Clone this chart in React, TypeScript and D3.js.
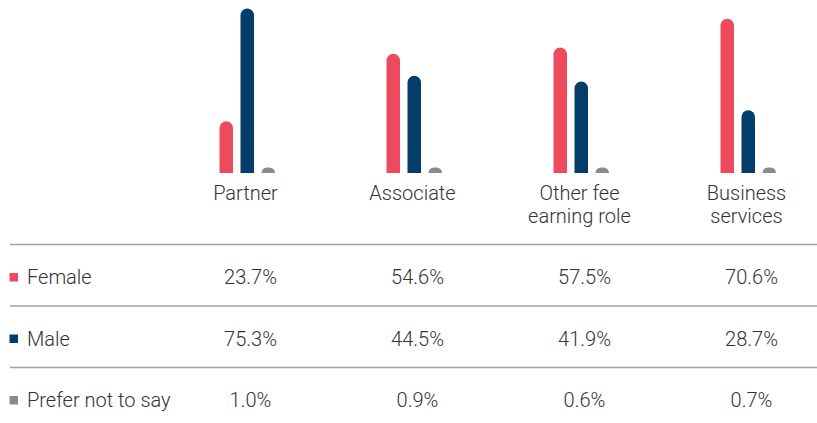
import React from "react";
import * as d3 from "d3";

const categories = ["Partner", "Associate", "Other fee earning role", "Business services"];
const categoryLines = [["Partner"], ["Associate"], ["Other fee", "earning role"], ["Business", "services"]];
const seriesNames = ["Female", "Male", "Prefer not to say"];
const female = [23.7, 54.6, 57.5, 70.6];
const male = [75.3, 44.5, 41.9, 28.7];
const preferNot = [1.0, 0.9, 0.6, 0.7];
const seriesColors = ["#EE4A5D", "#023D6B", "#8B8B8F"];

const W = 817;
const H = 423;
const FONT = "Roboto, 'Liberation Sans', Arial, sans-serif";
const TEXT = "#333333";

const App = () => {
  const values = [female, male, preferNot];

  const x = d3.scaleBand<string>().domain(categories).range([164, 832]);
  const inner = d3
    .scaleBand<string>()
    .domain(seriesNames)
    .range([-28, 27.5])
    .paddingInner(0.357)
    .paddingOuter(0);
  const y = d3.scaleLinear().domain([0, 76]).range([173, 7]);

  const rowY = d3.scalePoint<string>().domain(seriesNames).range([277, 400]);
  const lineYs = [244.5, 306, 367.5];

  // rounded top, flat bottom; tiny values keep a visible stub
  const barPath = (x0: number, w: number, v: number) => {
    const base = y(0);
    const h = Math.max(base - y(v), 5.5);
    const r = Math.min(w / 2, h);
    const top = base - h;
    return `M${x0},${base}V${top + r}A${r},${r} 0 0 1 ${x0 + r},${top}H${x0 + w - r}A${r},${r} 0 0 1 ${x0 + w},${top + r}V${base}Z`;
  };

  return (
    <svg
      width={W}
      height={H}
      style={{ position: "absolute", left: 0, top: 0, background: "#fff" }}
      fontFamily={FONT}
    >
      {categories.map((c, ci) => {
        const cx = (x(c) as number) + x.bandwidth() / 2;
        return (
          <g key={c}>
            {seriesNames.map((s, si) => (
              <path
                key={s}
                d={barPath(cx + (inner(s) as number), inner.bandwidth(), values[si][ci])}
                fill={seriesColors[si]}
              />
            ))}
            {categoryLines[ci].map((ln, li) => (
              <text
                key={ln}
                x={cx - 2}
                y={200 + li * 22.5}
                textAnchor="middle"
                fontSize={20}
                fontWeight={300}
                fill={TEXT}
              >
                {ln}
              </text>
            ))}
          </g>
        );
      })}

      {lineYs.map((ly) => (
        <line key={ly} x1={10} x2={W} y1={ly} y2={ly} stroke="#a3a3a3" strokeWidth={1.5} />
      ))}

      {seriesNames.map((s, si) => {
        const ry = rowY(s) as number;
        return (
          <g key={s}>
            <rect x={9.5} y={ry - 4} width={8.5} height={8.5} fill={seriesColors[si]} />
            <text x={27} y={ry + 7} fontSize={20} fontWeight={300} fill={TEXT}>
              {s}
            </text>
            {categories.map((c, ci) => (
              <text
                key={c}
                x={(x(c) as number) + x.bandwidth() / 2 + 3}
                y={ry + 7}
                textAnchor="middle"
                fontSize={20}
                fontWeight={300}
                fill={TEXT}
              >
                {values[si][ci].toFixed(1)}%
              </text>
            ))}
          </g>
        );
      })}
    </svg>
  );
};

export default App;
